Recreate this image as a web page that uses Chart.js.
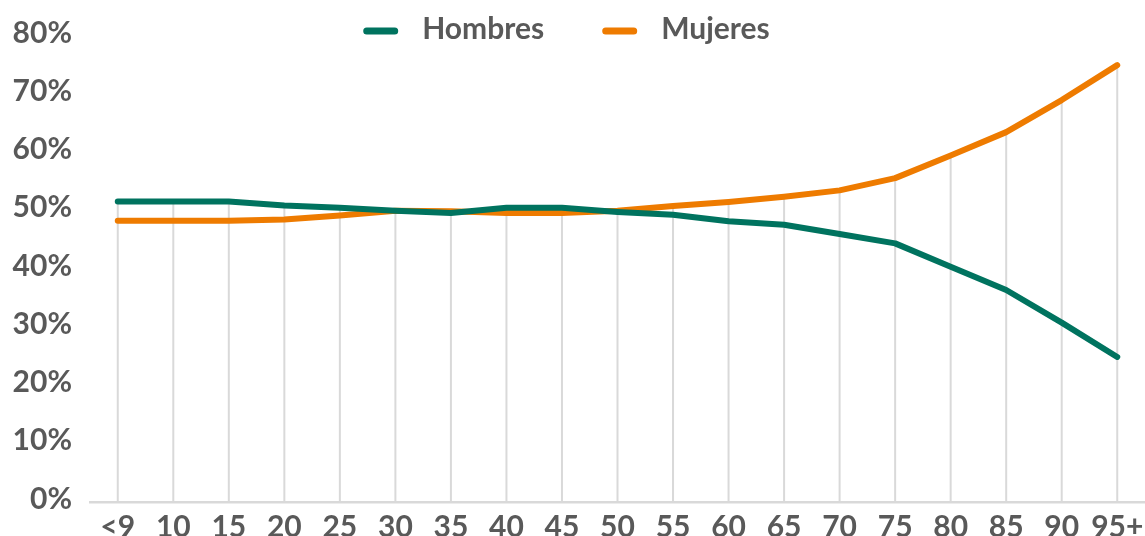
<!DOCTYPE html>
<html lang="es">
<head>
<meta charset="utf-8">
<title>Hombres y Mujeres por edad</title>
<script src="https://cdn.jsdelivr.net/npm/chart.js@4/dist/chart.umd.min.js"></script>
<style>
    body { margin: 0; background: #ffffff; }
    #contenedor { width: 1145px; height: 536px; }
</style>
</head>
<body>
<div id="contenedor"><canvas id="chartEdades"></canvas></div>
<script>
// Datos
const edades = ['<9', '10', '15', '20', '25', '30', '35', '40', '45', '50', '55', '60', '65', '70', '75', '80', '85', '90', '95+'];
const hombres = [51.6, 51.6, 51.6, 50.9, 50.5, 50.0, 49.6, 50.5, 50.5, 49.8, 49.3, 48.2, 47.6, 46.0, 44.4, 40.4, 36.4, 30.8, 24.9];
const mujeres = [48.3, 48.3, 48.3, 48.5, 49.2, 50.0, 49.9, 49.6, 49.6, 50.0, 50.8, 51.5, 52.4, 53.5, 55.6, 59.5, 63.5, 69.0, 75.0];
const ticksY = [0, 10, 20, 30, 40, 50, 60, 70, 80];

const colorHombres = '#00735f';
const colorMujeres = '#ee7b00';
const colorTexto = '#595959';
const colorGrilla = '#d9d9d9';
const fuente = 'Lato, "Open Sans", sans-serif';

// Lineas verticales desde el punto mas alto hasta el eje
const lineasVerticales = {
    id: 'lineasVerticales',
    beforeDatasetsDraw(chart) {
        const ctx = chart.ctx;
        const metas = chart.data.datasets.map((d, i) => chart.getDatasetMeta(i));
        const fondo = chart.chartArea.bottom;
        ctx.save();
        ctx.strokeStyle = colorGrilla;
        ctx.lineWidth = 2;
        metas[0].data.forEach((p, i) => {
            const arriba = Math.min(...metas.map(m => m.data[i].y));
            ctx.beginPath();
            ctx.moveTo(p.x, arriba);
            ctx.lineTo(p.x, fondo);
            ctx.stroke();
        });
        ctx.restore();
    }
};

// Leyenda arriba, centrada
const leyenda = {
    id: 'leyenda',
    afterDraw(chart) {
        const ctx = chart.ctx;
        const largo = 35, separacion = 24, entreItems = 58, y = 29;
        ctx.save();
        ctx.font = 'bold 30px ' + fuente;
        ctx.textBaseline = 'middle';
        const items = chart.data.datasets.map(d => ({ texto: d.label, color: d.borderColor, ancho: ctx.measureText(d.label).width }));
        let total = 0;
        items.forEach((it, i) => { total += largo + separacion + it.ancho + (i > 0 ? entreItems : 0); });
        let x = chart.width / 2 - 6 - total / 2;
        items.forEach(it => {
            ctx.strokeStyle = it.color;
            ctx.lineWidth = 7;
            ctx.lineCap = 'round';
            ctx.beginPath();
            ctx.moveTo(x + 3.5, y + 2);
            ctx.lineTo(x + largo - 3.5, y + 2);
            ctx.stroke();
            ctx.fillStyle = colorTexto;
            ctx.fillText(it.texto, x + largo + separacion, y);
            x += largo + separacion + it.ancho + entreItems;
        });
        ctx.restore();
    }
};

new Chart(
    document.getElementById('chartEdades'),
    {
        type: 'line',
        data: {
            labels: edades,
            datasets: [
                {
                    label: 'Hombres',
                    data: hombres,
                    borderColor: colorHombres,
                    backgroundColor: colorHombres,
                    borderWidth: 6,
                    borderCapStyle: 'round',
                    borderJoinStyle: 'round',
                    pointRadius: 0,
                    tension: 0
                },
                {
                    label: 'Mujeres',
                    data: mujeres,
                    borderColor: colorMujeres,
                    backgroundColor: colorMujeres,
                    borderWidth: 6,
                    borderCapStyle: 'round',
                    borderJoinStyle: 'round',
                    pointRadius: 0,
                    tension: 0
                }
            ]
        },
        options: {
            responsive: true,
            maintainAspectRatio: false,
            animation: false,
            layout: {
                padding: { top: 36, right: -6, bottom: 0, left: 0 }
            },
            plugins: {
                legend: { display: false },
                tooltip: { enabled: false }
            },
            scales: {
                x: {
                    offset: true,
                    grid: { display: false, drawTicks: false },
                    border: { display: true, color: colorGrilla, width: 2.5 },
                    ticks: {
                        color: colorTexto,
                        font: { family: fuente, size: 30, weight: 'bold' },
                        padding: 7,
                        maxRotation: 0,
                        autoSkip: false
                    },
                    afterFit(scale) {
                        scale.height = 34;
                        scale.paddingLeft = 0;
                        scale.paddingRight = 0;
                    }
                },
                y: {
                    min: 0,
                    max: 80,
                    grid: { display: false, drawTicks: false },
                    border: { display: false },
                    afterBuildTicks(scale) { scale.ticks = ticksY.map(v => ({ value: v })); },
                    ticks: {
                        color: colorTexto,
                        font: { family: fuente, size: 30, weight: 'bold' },
                        padding: 18,
                        labelOffset: -3,
                        callback: v => v + '%'
                    },
                    afterFit(scale) {
                        scale.width = 90;
                        scale.paddingTop = 0;
                        scale.paddingBottom = 0;
                    }
                }
            }
        },
        plugins: [lineasVerticales, leyenda]
    }
);
</script>
</body>
</html>
